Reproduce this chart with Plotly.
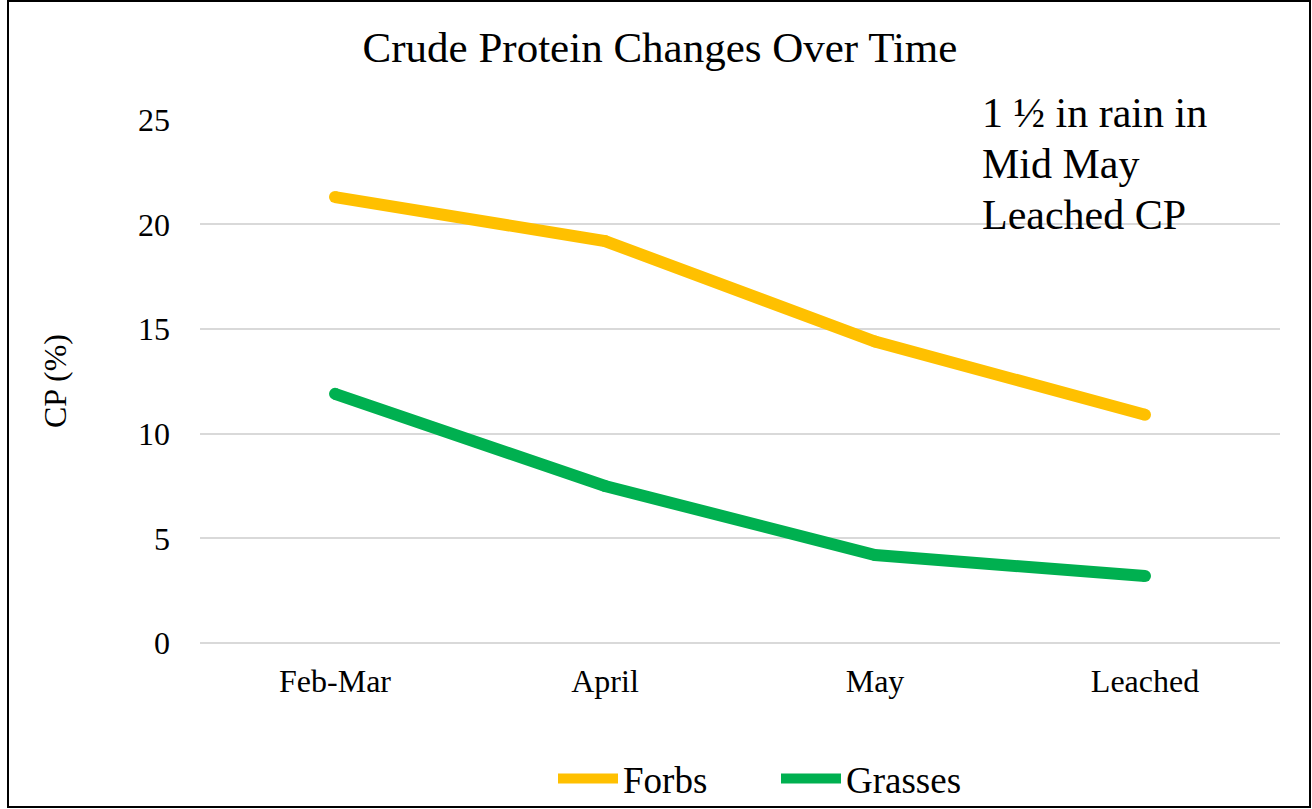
import plotly.graph_objects as go

categories = ["Feb-Mar", "April", "May", "Leached"]
forbs = [21.3, 19.2, 14.4, 10.9]
grasses = [11.9, 7.5, 4.2, 3.2]
y_ticks = [0, 5, 10, 15, 20, 25]
note_lines = ["1 ½ in rain in", "Mid May", "Leached CP"]

W, H = 1312, 809
L, R, T, B = 200, 32, 119, 166
pw, ph = W - L - R, H - T - B

def px(x):
    return (x - L) / pw

def py(y):
    return (H - B - y) / ph

FONT = "Liberation Serif"
series = [("Forbs", forbs, "#FFC000"), ("Grasses", grasses, "#00B050")]

fig = go.Figure()
for name, vals, col in series:
    fig.add_trace(go.Scatter(x=categories, y=vals, name=name, mode="lines",
                             line=dict(color=col, width=12)))
for name, vals, col in series:
    fig.add_trace(go.Scatter(x=categories, y=vals, name=name, mode="markers", showlegend=False,
                             marker=dict(color=col, size=12, line=dict(width=0)), hoverinfo="skip"))

annotations = []
for i, t in enumerate(note_lines):
    annotations.append(dict(text=t, xref="paper", yref="paper", x=px(980), y=py(113 + 51 * i),
                            xanchor="left", yanchor="middle", align="left", showarrow=False,
                            font=dict(family=FONT, size=42, color="black")))

fig.update_layout(
    width=W, height=H,
    margin=dict(l=L, r=R, t=T, b=B, autoexpand=False),
    paper_bgcolor="white", plot_bgcolor="white",
    font=dict(family=FONT, color="black", size=32),
    title=dict(text="Crude Protein Changes Over Time", x=px(660), xref="paper", xanchor="center",
               y=1 - 47 / H, yref="container", yanchor="middle",
               font=dict(family=FONT, size=43, color="black")),
    showlegend=True,
    legend=dict(orientation="h", x=px(776), xanchor="center", y=py(779), yanchor="middle",
                font=dict(family=FONT, size=37, color="black"), bgcolor="rgba(0,0,0,0)",
                itemwidth=60, entrywidth=148, tracegroupgap=0),
    xaxis=dict(type="category", range=[-0.5, 3.5], showgrid=False, showline=False, zeroline=False,
               ticks="", tickfont=dict(family=FONT, size=32), ticklabelstandoff=16, automargin=False),
    yaxis=dict(range=[0, 25.03], tickvals=y_ticks, showgrid=True, gridcolor="#D9D9D9", gridwidth=1.5,
               zeroline=True, zerolinecolor="#D9D9D9", zerolinewidth=1.5,
               showline=False, ticks="", ticklabelstandoff=29, automargin=False,
               tickfont=dict(family=FONT, size=32),
               title=dict(text="CP (%)", font=dict(family=FONT, size=32), standoff=61)),
    annotations=annotations,
    shapes=[dict(type="rect", xref="paper", yref="paper", x0=px(8), x1=px(1310), y0=py(807), y1=py(1),
                 line=dict(color="black", width=2), fillcolor="rgba(0,0,0,0)", layer="below")],
)

fig.write_html(
    "out.html",
    config={"displayModeBar": False},
    post_script="document.body.style.margin='0';",
)
